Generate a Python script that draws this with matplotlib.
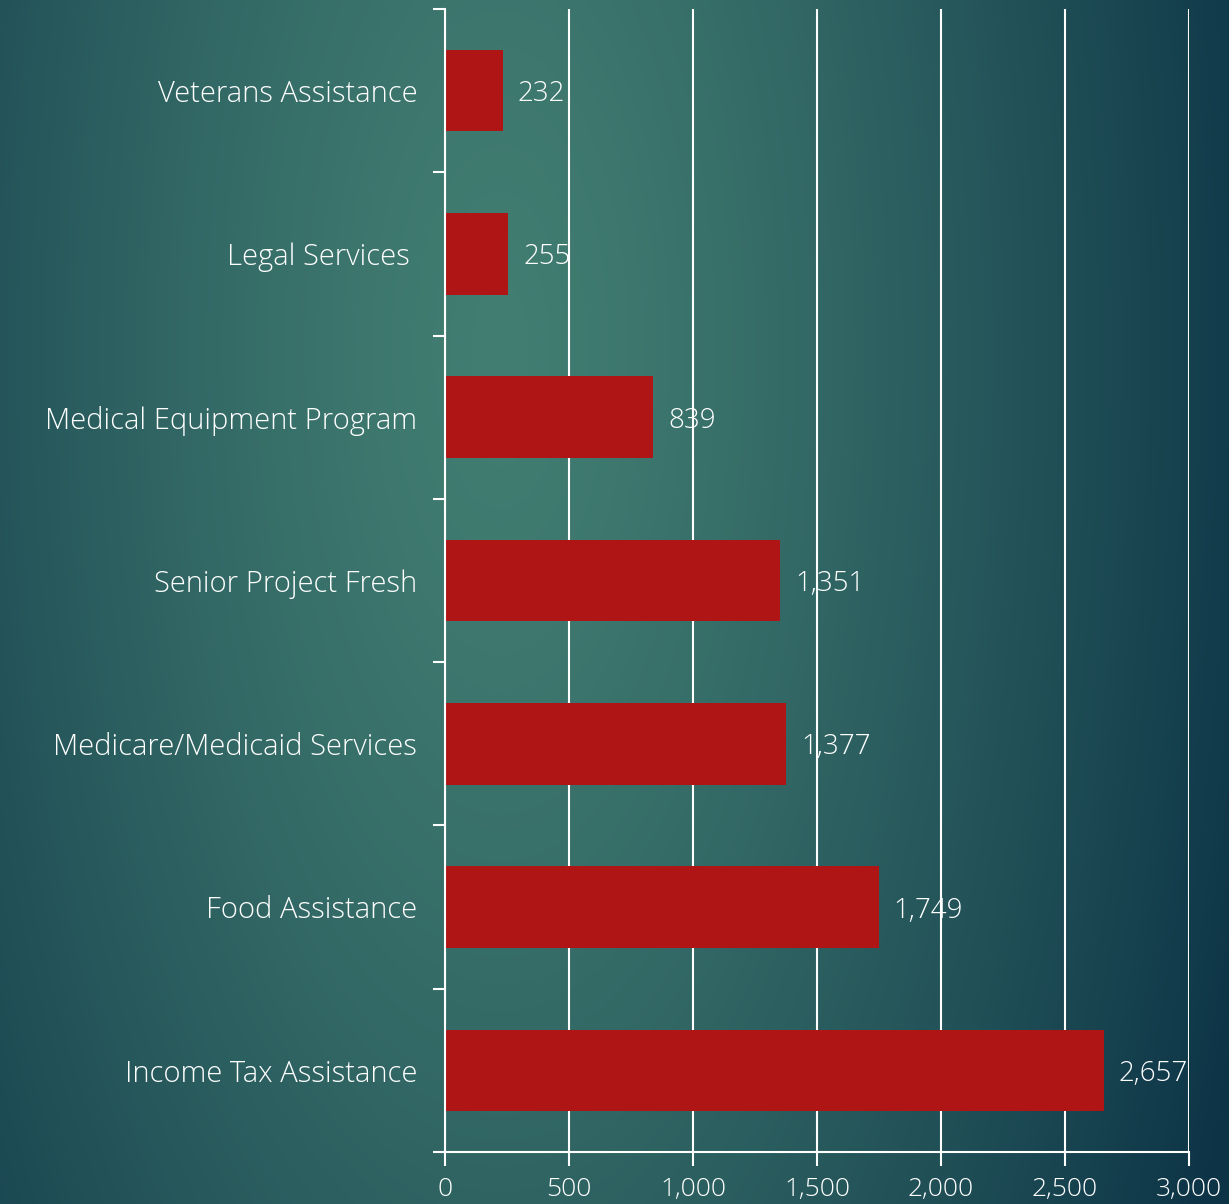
import matplotlib.pyplot as plt
import numpy as np

categories = ['Income Tax Assistance', 'Food Assistance', 'Medicare/Medicaid Services',
              'Senior Project Fresh', 'Medical Equipment Program', 'Legal Services ',
              'Veterans Assistance']
values = [2657, 1749, 1377, 1351, 839, 255, 232]
xticks = [0, 500, 1000, 1500, 2000, 2500, 3000]

W, H = 1229, 1204
fig = plt.figure(figsize=(W / 100, H / 100), dpi=100)

# radial-ish background gradient
yy, xx = np.mgrid[0:H, 0:W]
d = np.sqrt(((xx - 500) / 800.0) ** 2 + ((yy - 350) / 1900.0) ** 2)
t = np.clip(d, 0, 1) ** 1.3
c0 = np.array([0x42, 0x7e, 0x72]) / 255
c1 = np.array([0x0c, 0x33, 0x46]) / 255
img = c0[None, None, :] * (1 - t[..., None]) + c1[None, None, :] * t[..., None]
bg = fig.add_axes([0, 0, 1, 1], zorder=-1)
bg.imshow(img, aspect='auto', extent=(0, 1, 0, 1))
bg.axis('off')

ax = fig.add_axes([445 / W, 1 - 1152 / H, (1189 - 445) / W, (1152 - 9) / H])
ax.patch.set_alpha(0)

font = 'Open Sans'
y = np.arange(len(categories))
ax.barh(y, values, height=0.5, color='#b01515', zorder=2)
for yi, v in zip(y, values):
    ax.text(v + 60, yi, f'{v:,}', va='center_baseline', ha='left', color='white',
            fontsize=20, family=font, weight='light', zorder=3)

ax.set_xlim(0, 3000)
ax.set_ylim(-0.5, len(categories) - 0.5)
ax.set_xticks(xticks)
ax.set_xticklabels([f'{v:,}' for v in xticks], fontsize=19, family=font,
                   weight='light', color='white')
ax.xaxis.grid(True, color='white', linewidth=1.5, zorder=1)

ax.set_yticks(np.arange(-0.5, len(categories), 1.0))
ax.set_yticklabels([])
ax.set_yticks(y, minor=True)
ax.set_yticklabels(categories, minor=True, fontsize=21, family=font,
                   weight='light', color='white')
ax.tick_params(axis='y', which='major', length=9, width=1.5, color='white', direction='out')
ax.tick_params(axis='y', which='minor', length=0, pad=20)
ax.tick_params(axis='x', length=10, width=1.5, color='white', pad=8)

for s in ['top', 'right']:
    ax.spines[s].set_visible(False)
for s in ['left', 'bottom']:
    ax.spines[s].set_color('white')
    ax.spines[s].set_linewidth(1.5)

plt.savefig('out.png', dpi=100)
